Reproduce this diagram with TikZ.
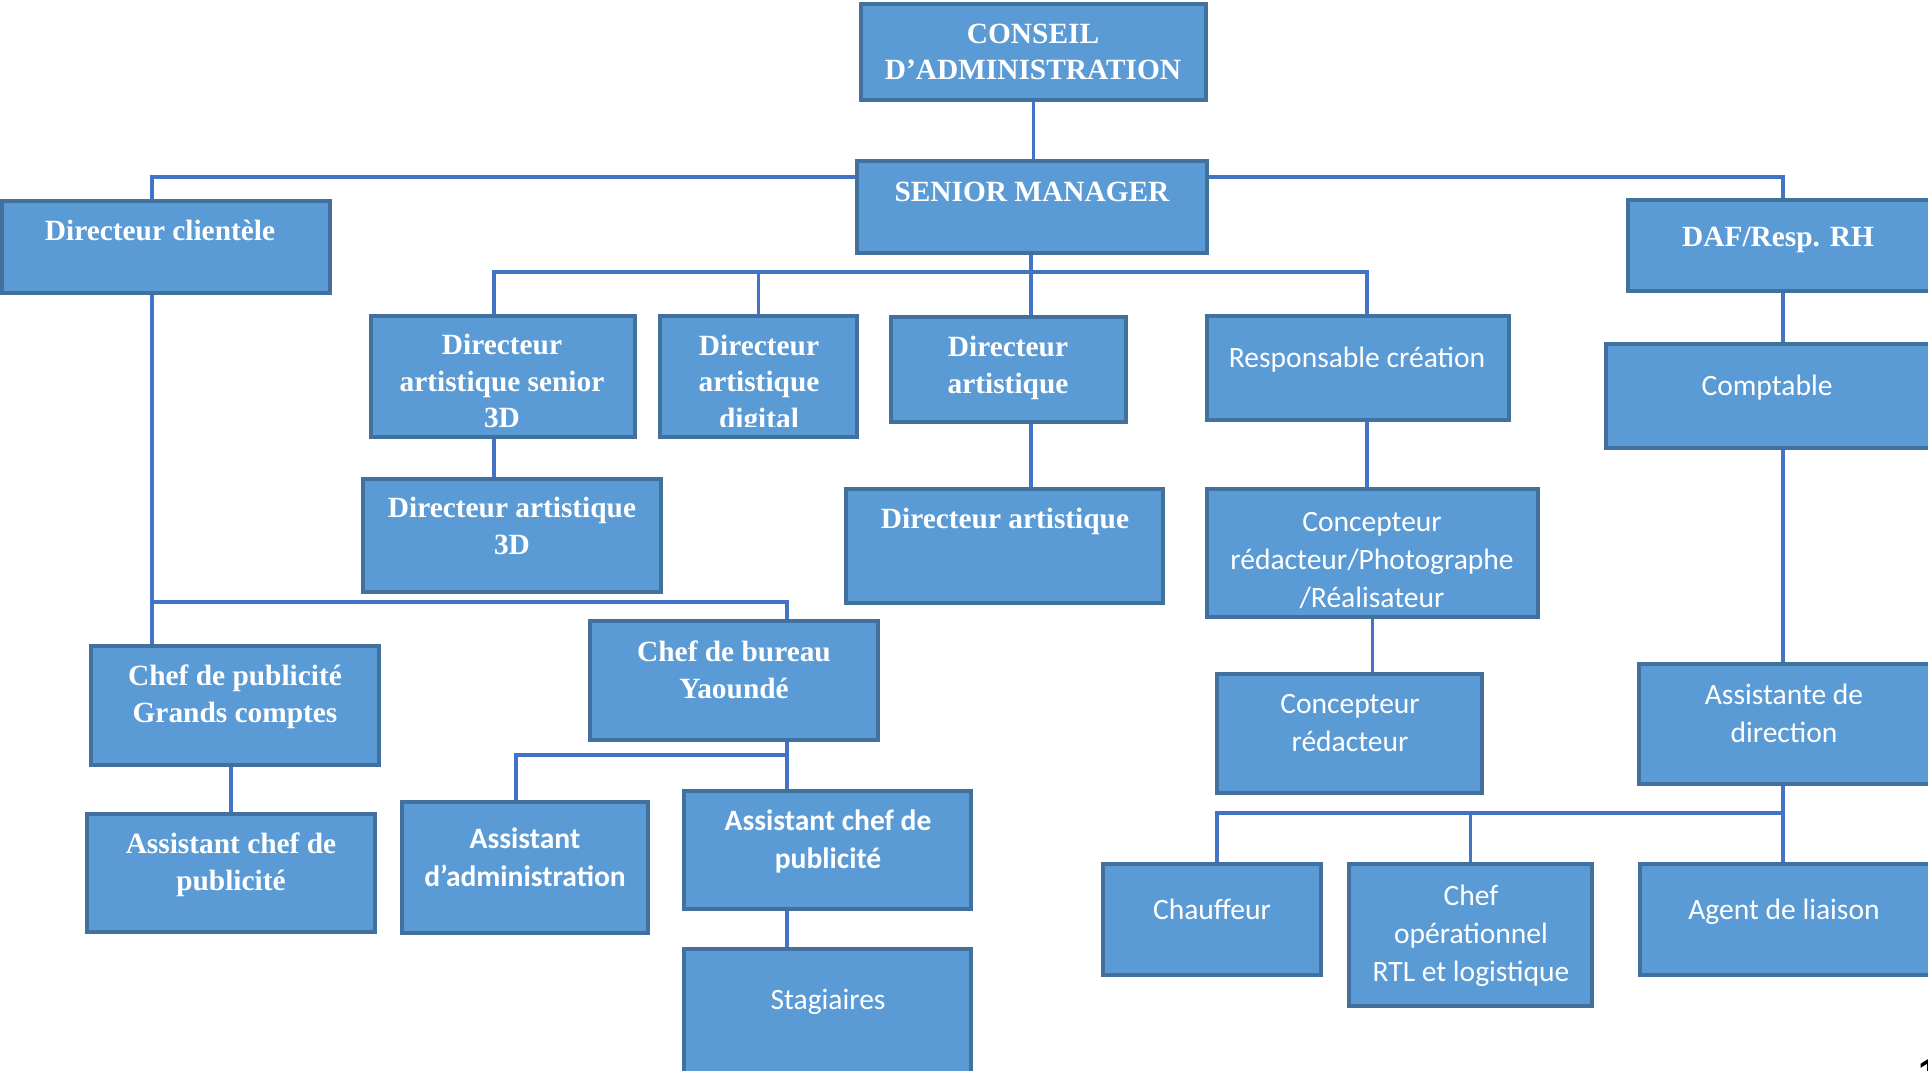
\documentclass[tikz,border=0pt]{standalone}
\usepackage{fontspec}
\setmainfont{Liberation Serif}
\newfontfamily\calibri{Carlito}
\newfontfamily\pagefont{Liberation Sans}
\usepackage{tikz}
\usetikzlibrary{fit, backgrounds, positioning}
\definecolor{boxfill}{HTML}{5B9BD5}
\definecolor{boxedge}{HTML}{41719C}
\definecolor{linkcol}{HTML}{4472C4}

\begin{document}
\begin{tikzpicture}[
  x=0.01cm, y=-0.01cm,
  box/.style={draw=boxedge, fill=boxfill, line width=0.9pt, inner sep=0pt},
  serif_txt/.style={text=white, align=center, inner sep=0pt,
                    font=\fontsize{8.35}{10.4}\selectfont\bfseries},
  sans_txt/.style={text=white, align=center, inner sep=0pt,
                   font=\calibri\fontsize{8.4}{10.8}\selectfont},
  sansb_txt/.style={sans_txt, font=\calibri\fontsize{8.4}{10.8}\selectfont\bfseries},
  link/.style={draw=linkcol, line width=0.95pt},
]
  \useasboundingbox (0,0) rectangle (1928,1071);

  % top of the chart
  \node[box, fit={(861,4) (1206,100)}] (conseil) {};
  \node[serif_txt] (conseil-t) at (1033,52) {CONSEIL\\D’ADMINISTRATION};
  \node[box, fit={(857,161) (1207,253)}] (senior) {};
  \node[serif_txt] (senior-t) at (1032,192) {SENIOR MANAGER};
  \node[box, fit={(2,201) (330,293)}] (dirclient) {};
  \node[serif_txt] (dirclient-t) at (160,230) {Directeur clientèle};
  \node[box, fit={(1628,200) (1935,291)}] (daf) {};
  \node[serif_txt] (daf-t) at (1778,240) {DAF/Resp. RH};

  % artistic directors
  \node[box, fit={(371,316) (635,437)}] (dasenior) {};
  \node[serif_txt] (dasenior-t) at (502,381) {Directeur\\artistique senior\\3D};
  \node[box, fit={(660,316) (857,437)}] (dadigital) {};
  \begin{scope}
    \clip (dadigital.north west) rectangle ([yshift=3.4pt]dadigital.south east);
    \node[serif_txt] (dadigital-t) at (759,385) {Directeur\\artistique\\digital};
  \end{scope}
  \node[box, fit={(891,317) (1126,422)}] (dart) {};
  \node[serif_txt] (dart-t) at (1008,368) {Directeur\\artistique};
  \node[box, fit={(1207,316) (1509,420)}] (respcrea) {};
  \node[sans_txt] (respcrea-t) at (1357,360) {Responsable création};
  \node[box, fit={(1606,344) (1935,448)}] (comptable) {};
  \node[sans_txt] (comptable-t) at (1767,388) {Comptable};

  \node[box, fit={(363,479) (661,592)}] (da3d) {};
  \node[serif_txt] (da3d-t) at (512,526) {Directeur artistique\\3D};
  \node[box, fit={(846,489) (1163,603)}] (dartb) {};
  \node[serif_txt] (dartb-t) at (1005,521) {Directeur artistique};
  \node[box, fit={(1207,489) (1538,617)}] (concphoto) {};
  \node[sans_txt] (concphoto-t) at (1372,561) {Concepteur\\rédacteur/Photographe\\/Réalisateur};

  % clients side
  \node[box, fit={(91,646) (379,765)}] (chefpub) {};
  \node[serif_txt] (chefpub-t) at (235,697) {Chef de publicité\\Grands comptes};
  \node[box, fit={(590,621) (878,740)}] (chefbureau) {};
  \node[serif_txt] (chefbureau-t) at (734,670) {Chef de bureau\\Yaoundé};
  \node[box, fit={(1217,674) (1482,793)}] (concred) {};
  \node[sans_txt] (concred-t) at (1350,723) {Concepteur\\rédacteur};
  \node[box, fit={(1639,664) (1935,784)}] (assdir) {};
  \node[sans_txt] (assdir-t) at (1784,713) {Assistante de\\direction};

  \node[box, fit={(87,814) (375,932)}] (asscpl) {};
  \node[serif_txt] (asscpl-t) at (231,865) {Assistant chef de\\publicité};
  \node[box, fit={(402,802) (648,933)}] (assadmin) {};
  \node[sansb_txt] (assadmin-t) at (525,857) {Assistant\\d’administration};
  \node[box, fit={(684,791) (971,909)}] (asscpm) {};
  \node[sansb_txt] (asscpm-t) at (828,841) {Assistant chef de\\publicité};
  \node[box, fit={(684,949) (971,1085)}] (stag) {};
  \node[sans_txt] (stag-t) at (828,1002) {Stagiaires};

  % staff under the assistant
  \node[box, fit={(1103,864) (1321,975)}] (chauffeur) {};
  \node[sans_txt] (chauffeur-t) at (1212,909) {Chauffeur};
  \node[box, fit={(1349,864) (1592,1006)}] (chefop) {};
  \node[sans_txt] (chefop-t) at (1471,936) {Chef\\opérationnel\\RTL et logistique};
  \node[box, fit={(1640,864) (1935,975)}] (agent) {};
  \node[sans_txt] (agent-t) at (1784,912) {Agent de liaison};

  \node[font=\pagefont\bfseries\fontsize{11}{12}\selectfont, inner sep=0pt,
        anchor=north west] (pgnum) at (1918,1059) {1};

  % connectors, behind the boxes
  \coordinate (cl) at (152,177);
  \coordinate (cr) at (1783,177);
  \coordinate (mid) at (1031,272);
  \coordinate (ml) at (494,272);
  \coordinate (mr) at (1367,272);
  \coordinate (bl) at (152,602);
  \coordinate (bb) at (787,602);
  \coordinate (bj) at (787,755);
  \coordinate (bk) at (516,755);
  \coordinate (rl) at (1217,813);
  \coordinate (rb) at (1783,813);
  \begin{scope}[on background layer]
    \draw[link] (conseil.south) -- (conseil.south |- senior.north);
    \draw[link] (cl |- dirclient.north) -- (cl) -- (cr) -- (cr |- daf.north);
    \draw[link] (mid |- senior.south) -- (mid) -- (mid |- dart.north);
    \draw[link] (ml |- dasenior.north) -- (ml) -- (mr) -- (mr |- respcrea.north);
    \draw[link] (dadigital.north) -- (dadigital.north |- mid);
    \draw[link] (ml |- dasenior.south) -- (ml |- da3d.north);
    \draw[link] (mid |- dart.south) -- (mid |- dartb.north);
    \draw[link] (mr |- respcrea.south) -- (mr |- concphoto.north);
    \draw[link] (concphoto.south) -- (concphoto.south |- concred.north);
    % left branch
    \draw[link] (cl |- dirclient.south) -- (cl |- chefpub.north);
    \draw[link] (bl) -- (bb) -- (bb |- chefbureau.north);
    \draw[link] (asscpl.north) -- (asscpl.north |- chefpub.south);
    \draw[link] (bj |- chefbureau.south) -- (bj |- asscpm.north);
    \draw[link] (bk |- assadmin.north) -- (bk) -- (bj);
    \draw[link] (bj |- asscpm.south) -- (bj |- stag.north);
    % right branch
    \draw[link] (cr |- daf.south) -- (cr |- comptable.north);
    \draw[link] (cr |- comptable.south) -- (cr |- assdir.north);
    \draw[link] (cr |- assdir.south) -- (cr |- agent.north);
    \draw[link] (rl |- chauffeur.north) -- (rl) -- (rb);
    \draw[link] (chefop.north) -- (chefop.north |- rb);
  \end{scope}
\end{tikzpicture}
\end{document}
